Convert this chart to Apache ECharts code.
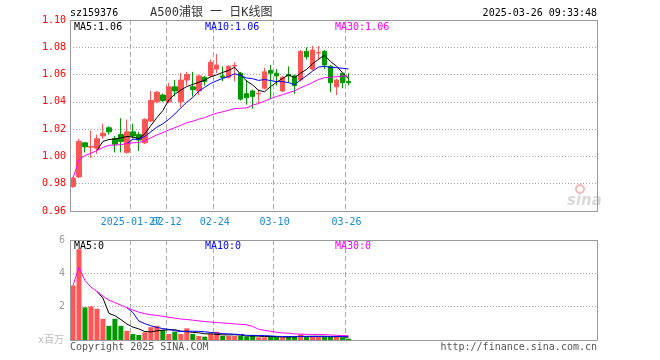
<!DOCTYPE html>
<html><head><meta charset="utf-8">
<script src="https://cdn.jsdelivr.net/npm/echarts@6/dist/echarts.min.js"></script>
<style>html,body{margin:0;padding:0;background:#fff}#c{width:660px;height:360px}</style>
</head><body><div id="c"></div>
<script>
const dates = ['2025-01-13','2025-01-14','2025-01-15','2025-01-16','2025-01-17','2025-01-20','2025-01-21','2025-01-22','2025-01-23','2025-01-24',
'2025-01-27','2025-02-05','2025-02-06','2025-02-07','2025-02-10','2025-02-11','2025-02-12','2025-02-13','2025-02-14','2025-02-17',
'2025-02-18','2025-02-19','2025-02-20','2025-02-21','2025-02-24','2025-02-25','2025-02-26','2025-02-27','2025-02-28','2025-03-03',
'2025-03-04','2025-03-05','2025-03-06','2025-03-07','2025-03-10','2025-03-11','2025-03-12','2025-03-13','2025-03-14','2025-03-17',
'2025-03-18','2025-03-19','2025-03-20','2025-03-21','2025-03-24','2025-03-25','2025-03-26'];
const opens  = [0.978,0.985,1.010,1.0068,1.006,1.015,1.021,1.013,1.016,1.003,1.018,1.016,1.010,1.026,1.040,1.045,1.040,1.051,1.040,1.056,1.051,1.048,1.058,1.059,1.064,1.059,1.058,1.0662,1.061,1.046,1.048,1.0458,1.050,1.063,1.061,1.048,1.060,1.059,1.056,1.077,1.064,1.0758,1.077,1.066,1.051,1.061,1.055];
const closes = [0.984,1.011,1.007,1.0072,1.013,1.017,1.018,1.009,1.011,1.018,1.015,1.012,1.027,1.041,1.047,1.041,1.051,1.048,1.056,1.060,1.049,1.059,1.055,1.069,1.067,1.058,1.066,1.0668,1.042,1.043,1.044,1.0462,1.062,1.061,1.059,1.058,1.059,1.052,1.077,1.073,1.078,1.0762,1.067,1.054,1.056,1.054,1.054];
const lows   = [0.977,0.984,1.003,0.999,1.002,1.013,1.016,1.003,1.003,1.002,1.013,1.004,1.009,1.025,1.039,1.040,1.039,1.044,1.036,1.052,1.044,1.045,1.052,1.058,1.061,1.055,1.057,1.055,1.041,1.038,1.035,1.039,1.049,1.042,1.052,1.047,1.054,1.046,1.055,1.071,1.063,1.071,1.064,1.047,1.045,1.050,1.052];
const highs  = [0.985,1.013,1.010,1.019,1.016,1.024,1.022,1.015,1.028,1.027,1.024,1.018,1.028,1.048,1.048,1.046,1.054,1.056,1.061,1.062,1.062,1.060,1.059,1.071,1.075,1.066,1.067,1.069,1.062,1.056,1.049,1.049,1.065,1.067,1.064,1.059,1.066,1.060,1.078,1.080,1.081,1.081,1.078,1.067,1.057,1.061,1.061];
const volumes = [3.27,5.45,1.96,2.02,1.88,1.27,0.85,1.27,0.85,0.55,0.36,0.30,0.46,0.77,0.85,0.60,0.36,0.50,0.36,0.70,0.36,0.24,0.20,0.37,0.49,0.24,0.24,0.24,0.24,0.20,0.30,0.16,0.16,0.20,0.20,0.16,0.20,0.20,0.33,0.20,0.20,0.20,0.20,0.20,0.20,0.16,0.08];
const tickDates  = ['2025-01-27','2025-02-12','2025-02-24','2025-03-10','2025-03-26'];
const tickLabels = ['2025-01-27','02-12','02-24','03-10','03-26'];
const totalSlots = 88;

const RED = '#ff5555', GREEN = '#009900';
const MONO = '"DejaVu Sans Mono", monospace';
const cats = dates.slice();
for (let i = dates.length; i < totalSlots; i++) cats.push('pad' + i);
const tickIdx = tickDates.map(d => dates.indexOf(d));
const showTick = (i) => tickIdx.indexOf(i) >= 0;
const firstTick = (i) => i === tickIdx[0];
const otherTick = (i) => tickIdx.indexOf(i) > 0;
const labelFmt = (v) => { const k = tickDates.indexOf(v); return k >= 0 ? tickLabels[k] : ''; };

function ma(arr, n, expanding) {
  const out = [];
  for (let i = 0; i < arr.length; i++) {
    if (i < n - 1 && !expanding) { out.push('-'); continue; }
    const s = Math.max(0, i - n + 1);
    let sum = 0; for (let j = s; j <= i; j++) sum += arr[j];
    out.push(+(sum / (i - s + 1)).toFixed(4));
  }
  return out;
}
const kData = dates.map((d, i) => [opens[i], closes[i], lows[i], highs[i]]);
const volData = volumes.map((v, i) => ({ value: v, itemStyle: { color: closes[i] >= opens[i] ? RED : GREEN } }));
const ma5 = ma(closes, 5), ma10 = ma(closes, 10), ma30 = ma(closes, 30, true);
const vma5 = ma(volumes, 5), vma10 = ma(volumes, 10), vma30 = ma(volumes, 30, true);
const last = a => a[a.length - 1];

const chart = echarts.init(document.getElementById('c'), null, { renderer: 'canvas' });
const lineS = (data, color, xi, yi) => ({ type: 'line', data, xAxisIndex: xi, yAxisIndex: yi, symbol: 'none', lineStyle: { color, width: 1 }, itemStyle: { color }, z: 5, silent: true });
const txt = (x, y, text, fill, opts) => Object.assign({ type: 'text', x, y, z: 50, silent: true,
  style: Object.assign({ text, fill, font: '10px ' + MONO, textAlign: 'left', textVerticalAlign: 'middle' }, opts || {}) });
const dateLabel = (intervalFn) => ({ interval: intervalFn, formatter: labelFmt, hideOverlap: false,
  color: '#1a8ad4', fontFamily: MONO, fontSize: 10, margin: 6, padding: [0, 4, 0, 0] });

chart.setOption({
  animation: false,
  backgroundColor: '#fff',
  grid: [
    { left: 70, top: 20, width: 527, height: 191 },
    { left: 70, top: 240, width: 527, height: 100 }
  ],
  xAxis: [
    { type: 'category', gridIndex: 0, data: cats, boundaryGap: true,
      axisLine: { show: false }, axisTick: { show: false },
      axisLabel: dateLabel(otherTick),
      splitLine: { show: true, interval: (i) => showTick(i), lineStyle: { color: '#aaaaaa', type: [5, 3], width: 1 } } },
    { type: 'category', gridIndex: 1, data: cats, boundaryGap: true,
      axisLine: { show: false }, axisTick: { show: false }, axisLabel: { show: false },
      splitLine: { show: true, interval: (i) => showTick(i), lineStyle: { color: '#aaaaaa', type: [5, 3], width: 1 } } },
    { type: 'category', gridIndex: 0, data: cats, boundaryGap: true, position: 'bottom',
      axisLine: { show: false }, axisTick: { show: false },
      axisLabel: dateLabel(firstTick), splitLine: { show: false } }
  ],
  yAxis: [
    { type: 'value', gridIndex: 0, min: 0.96, max: 1.10, interval: 0.02,
      axisLine: { show: false }, axisTick: { show: false },
      axisLabel: { color: '#ff0000', fontFamily: MONO, fontSize: 10, margin: 4, formatter: v => v.toFixed(2) },
      splitLine: { show: true, lineStyle: { color: '#aaaaaa', type: [1, 2], width: 1 } } },
    { type: 'value', gridIndex: 1, min: 0, max: 6, interval: 2,
      axisLine: { show: false }, axisTick: { show: false },
      axisLabel: { color: '#999999', fontFamily: MONO, fontSize: 10, margin: 5, formatter: v => v === 0 ? '' : String(v) },
      splitLine: { show: true, lineStyle: { color: '#aaaaaa', type: [1, 2], width: 1 } } }
  ],
  series: [
    { type: 'candlestick', xAxisIndex: 0, yAxisIndex: 0, data: kData, barWidth: 5,
      itemStyle: { color: RED, color0: GREEN, borderColor: RED, borderColor0: GREEN, borderColorDoji: RED, borderWidth: 1 } },
    lineS(ma5, '#000000', 0, 0), lineS(ma10, '#0000ff', 0, 0), lineS(ma30, '#ff00ff', 0, 0),
    { type: 'bar', xAxisIndex: 1, yAxisIndex: 1, data: volData, barWidth: 5 },
    lineS(vma5, '#000000', 1, 1), lineS(vma10, '#0000ff', 1, 1), lineS(vma30, '#ff00ff', 1, 1)
  ],
  graphic: [
    { type: 'rect', z: 60, silent: true, shape: { x: 70.5, y: 20.5, width: 527, height: 191 }, style: { fill: 'none', stroke: '#999999', lineWidth: 1 } },
    { type: 'rect', z: 60, silent: true, shape: { x: 70.5, y: 240.5, width: 527, height: 100 }, style: { fill: 'none', stroke: '#999999', lineWidth: 1 } },
    txt(70, 13, 'sz159376', '#000000'),
    txt(150, 13, 'A500浦银 一 日K线图', '#333333', { font: '12px "DejaVu Sans Mono", "Noto Sans CJK SC"' }),
    txt(597, 13, '2025-03-26 09:33:48', '#000000', { textAlign: 'right' }),
    txt(74, 27, 'MA5:' + last(ma5).toFixed(2), '#000000'),
    txt(205, 27, 'MA10:' + last(ma10).toFixed(2), '#0000ff'),
    txt(335, 27, 'MA30:' + last(ma30).toFixed(2), '#ff00ff'),
    txt(74, 246, 'MA5:0', '#000000'),
    txt(205, 246, 'MA10:0', '#0000ff'),
    txt(335, 246, 'MA30:0', '#ff00ff'),
    txt(38, 340, 'x百万', '#bbbbbb', { font: '10px "DejaVu Sans Mono", "Noto Sans CJK SC"' }),
    txt(70, 347, 'Copyright 2025 SINA.COM', '#555555'),
    txt(597, 347, 'http://finance.sina.com.cn', '#555555', { textAlign: 'right' }),
    { type: 'circle', z: 40, silent: true, shape: { cx: 580, cy: 189, r: 4 }, style: { fill: 'none', stroke: '#f3b8b8', lineWidth: 2 } },
    txt(567, 201, 'sina', '#d8d8d8', { font: 'italic bold 15px "DejaVu Sans"' })
  ]
});
</script></body></html>
